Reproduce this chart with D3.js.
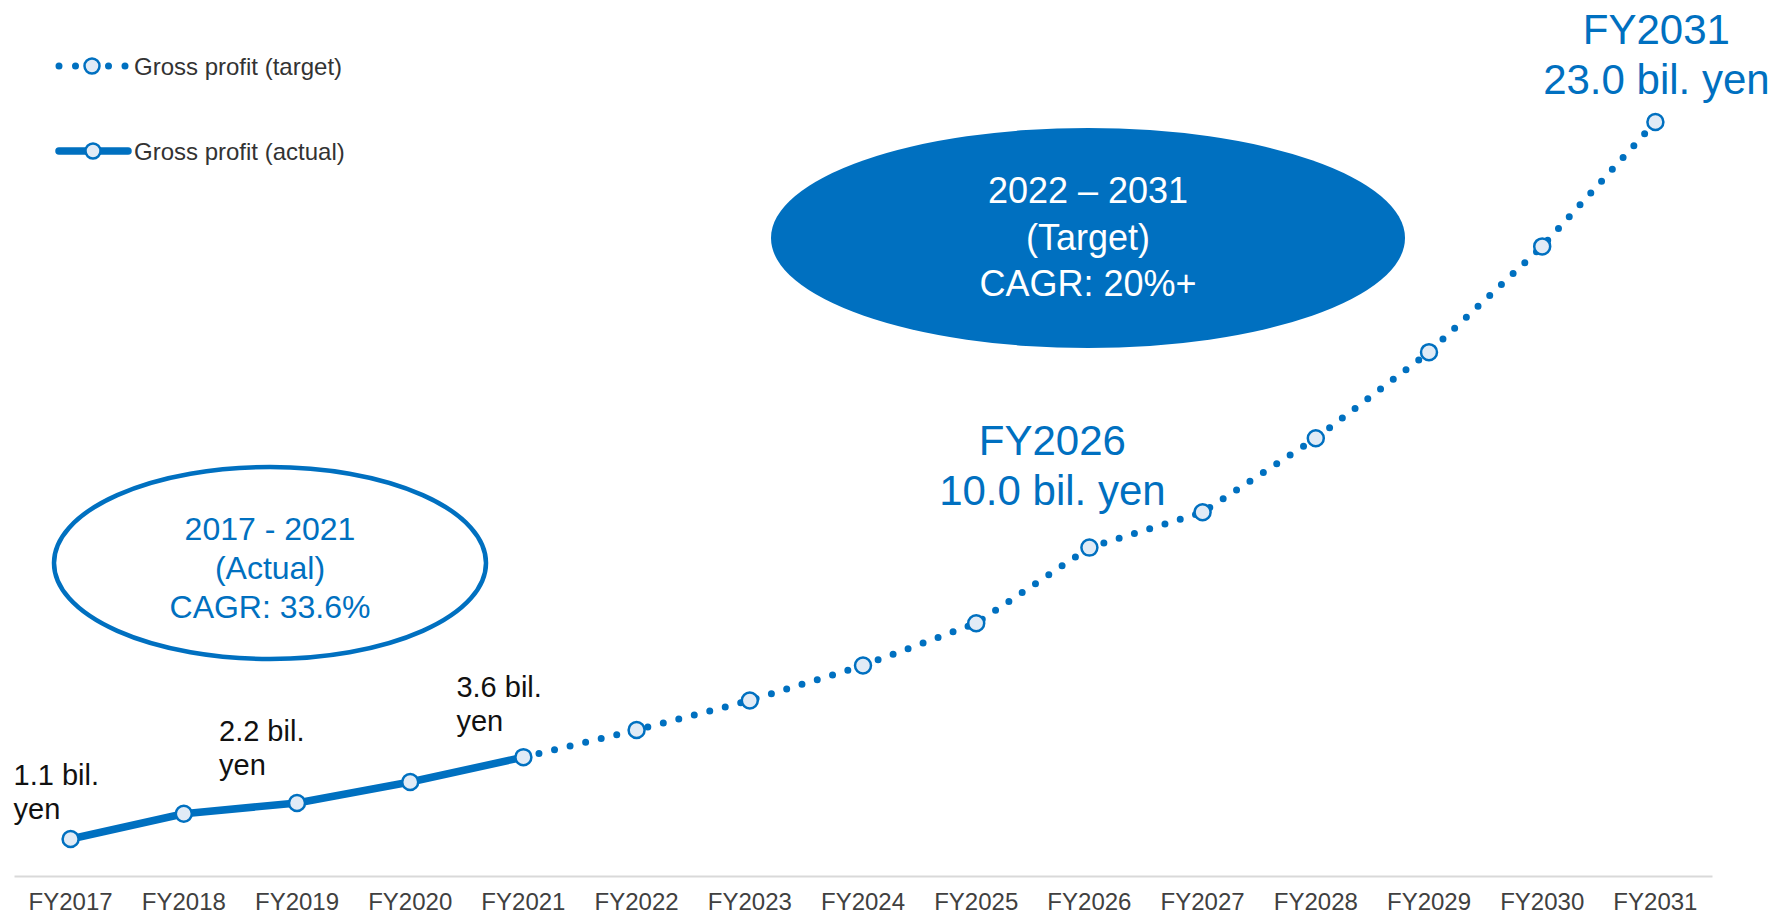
<!DOCTYPE html>
<html>
<head>
<meta charset="utf-8">
<script src="https://cdn.jsdelivr.net/npm/d3@7"></script>
<style>
  html, body { margin: 0; padding: 0; background: #ffffff; }
  svg { display: block; font-family: "Liberation Sans", Arial, sans-serif; }
</style>
</head>
<body>
<svg id="chart" width="1777" height="915"></svg>
<script>
// Fiscal years on the category axis
const years = ["FY2017","FY2018","FY2019","FY2020","FY2021","FY2022","FY2023","FY2024",
               "FY2025","FY2026","FY2027","FY2028","FY2029","FY2030","FY2031"];

// Gross profit, billion yen
const actualYears  = ["FY2017","FY2018","FY2019","FY2020","FY2021"];
const actualValues = [1.1, 1.87, 2.2, 2.84, 3.6];

const targetYears  = ["FY2021","FY2022","FY2023","FY2024","FY2025","FY2026",
                      "FY2027","FY2028","FY2029","FY2030","FY2031"];
const targetValues = [3.6, 4.43, 5.33, 6.40, 7.69, 10.0, 11.08, 13.34, 15.97, 19.2, 23.0];

// Value call-outs on the actual series
const actualLabels = [
  { year: "FY2017", lines: ["1.1 bil.", "yen"] },
  { year: "FY2019", lines: ["2.2 bil.", "yen"] },
  { year: "FY2021", lines: ["3.6 bil.", "yen"] }
];

// Milestone call-outs on the target series
const milestoneLabels = [
  { year: "FY2026", lines: ["FY2026", "10.0 bil. yen"] },
  { year: "FY2031", lines: ["FY2031", "23.0 bil. yen"] }
];

const legendItems = ["Gross profit (target)", "Gross profit (actual)"];

const BLUE = "#0070c0";
const MARKER_FILL = "#e1ebf6";

const svg = d3.select("#chart");

const x = d3.scaleBand().domain(years).range([14, 1712]).padding(0);
const cx = d => x(d) + x.bandwidth() / 2;
const y = d3.scaleLinear().domain([0, 23]).range([875, 122]);

// ---- growth-rate ellipses ----
const actualOval = svg.append("g");
actualOval.append("ellipse")
  .attr("cx", 270).attr("cy", 563).attr("rx", 216).attr("ry", 96)
  .attr("fill", "none").attr("stroke", BLUE).attr("stroke-width", 4.5);
actualOval.selectAll("text")
  .data(["2017 - 2021", "(Actual)", "CAGR: 33.6%"])
  .join("text")
  .attr("x", 270).attr("y", (d, i) => 540 + i * 39)
  .attr("text-anchor", "middle")
  .attr("font-size", 32).attr("fill", BLUE)
  .text(d => d);

const targetOval = svg.append("g");
targetOval.append("ellipse")
  .attr("cx", 1088).attr("cy", 238).attr("rx", 317).attr("ry", 110)
  .attr("fill", BLUE);
targetOval.selectAll("text")
  .data(["2022 \u2013 2031", "(Target)", "CAGR: 20%+"])
  .join("text")
  .attr("x", 1088).attr("y", (d, i) => 203 + i * 46.5)
  .attr("text-anchor", "middle")
  .attr("font-size", 36).attr("fill", "#ffffff")
  .text(d => d);

// ---- axis ----
const axis = svg.append("g")
  .attr("transform", "translate(0,876)")
  .call(d3.axisBottom(x).tickSize(0).tickSizeOuter(0).tickPadding(17));
axis.select(".domain").attr("stroke", "#d9d9d9").attr("stroke-width", 2);
axis.selectAll("text")
  .attr("font-size", 24).attr("fill", "#404040")
  .attr("font-family", "'Liberation Sans', Arial, sans-serif");

// ---- lines ----
const line = d3.line().x(d => cx(d.year)).y(d => y(d.value));
const actualData = actualYears.map((yr, i) => ({ year: yr, value: actualValues[i] }));
const targetData = targetYears.map((yr, i) => ({ year: yr, value: targetValues[i] }));

svg.append("path")
  .datum(targetData)
  .attr("d", line)
  .attr("fill", "none").attr("stroke", BLUE)
  .attr("stroke-width", 7).attr("stroke-linecap", "round")
  .attr("stroke-dasharray", "0 16");

svg.append("path")
  .datum(actualData)
  .attr("d", line)
  .attr("fill", "none").attr("stroke", BLUE)
  .attr("stroke-width", 7.5).attr("stroke-linejoin", "round");

// markers
svg.append("g").selectAll("circle")
  .data(actualData.concat(targetData.slice(1)))
  .join("circle")
  .attr("cx", d => cx(d.year)).attr("cy", d => y(d.value))
  .attr("r", 8)
  .attr("fill", MARKER_FILL).attr("stroke", BLUE).attr("stroke-width", 2.5);

// ---- value call-outs ----
const actualOffsets = { FY2017: [-57, -54], FY2019: [-78, -62], FY2021: [-67, -60] };
actualLabels.forEach(lbl => {
  const v = actualValues[actualYears.indexOf(lbl.year)];
  const off = actualOffsets[lbl.year];
  svg.append("g").selectAll("text")
    .data(lbl.lines)
    .join("text")
    .attr("x", cx(lbl.year) + off[0])
    .attr("y", (d, i) => y(v) + off[1] + i * 34)
    .attr("font-size", 29).attr("fill", "#111111")
    .text(d => d);
});

const milestoneOffsets = { FY2026: [-37, -93], FY2031: [1, -78] };
milestoneLabels.forEach(lbl => {
  const v = targetValues[targetYears.indexOf(lbl.year)];
  const off = milestoneOffsets[lbl.year];
  svg.append("g").selectAll("text")
    .data(lbl.lines)
    .join("text")
    .attr("x", cx(lbl.year) + off[0])
    .attr("y", (d, i) => y(v) + off[1] + i * 50)
    .attr("text-anchor", "middle")
    .attr("font-size", 42).attr("fill", BLUE)
    .text(d => d);
});

// ---- legend ----
const legend = svg.append("g");
const lgTarget = legend.append("g").attr("transform", "translate(0,66)");
lgTarget.append("line")
  .attr("x1", 59).attr("x2", 126.5).attr("y1", 0).attr("y2", 0)
  .attr("stroke", BLUE).attr("stroke-width", 7).attr("stroke-linecap", "round")
  .attr("stroke-dasharray", "0 16.5");
lgTarget.append("circle").attr("cx", 92).attr("cy", 0).attr("r", 7.5)
  .attr("fill", MARKER_FILL).attr("stroke", BLUE).attr("stroke-width", 2.5);
lgTarget.append("text").attr("x", 134).attr("y", 8.5)
  .attr("font-size", 24).attr("fill", "#333333").text(legendItems[0]);

const lgActual = legend.append("g").attr("transform", "translate(0,151)");
lgActual.append("line")
  .attr("x1", 59).attr("x2", 128).attr("y1", 0).attr("y2", 0)
  .attr("stroke", BLUE).attr("stroke-width", 7.5).attr("stroke-linecap", "round");
lgActual.append("circle").attr("cx", 93).attr("cy", 0).attr("r", 7.5)
  .attr("fill", MARKER_FILL).attr("stroke", BLUE).attr("stroke-width", 2.5);
lgActual.append("text").attr("x", 134).attr("y", 8.5)
  .attr("font-size", 24).attr("fill", "#333333").text(legendItems[1]);
</script>
</body>
</html>
